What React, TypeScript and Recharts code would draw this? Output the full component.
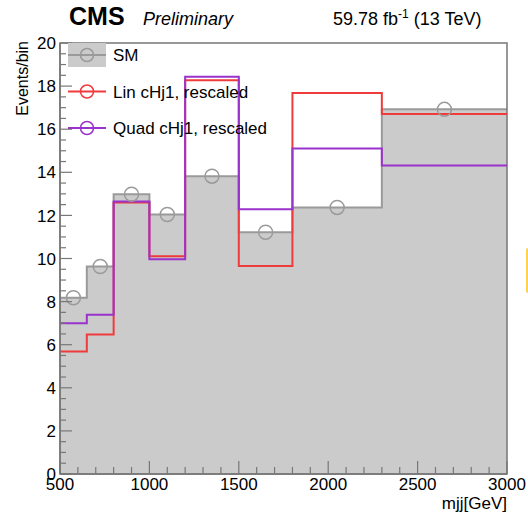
import { ComposedChart, Area, Line, Scatter, XAxis, YAxis, ReferenceArea } from "recharts";

const binEdges = [500, 650, 800, 1000, 1200, 1500, 1800, 2300, 3000];
const smValues = [8.18, 9.63, 12.98, 12.04, 13.82, 11.22, 12.37, 16.92];
const linValues = [5.68, 6.47, 12.6, 10.1, 18.27, 9.65, 17.68, 16.7];
const quadValues = [7.0, 7.39, 12.65, 9.97, 18.43, 12.28, 15.1, 14.32];

const yMajorTicks = [0, 2, 4, 6, 8, 10, 12, 14, 16, 18, 20];
const xMajorTicks = [500, 1000, 1500, 2000, 2500, 3000];

const legendItems = [
  { label: "SM", color: "#9a9a9a", box: true },
  { label: "Lin cHj1, rescaled", color: "#ef3b3b", box: false },
  { label: "Quad cHj1, rescaled", color: "#9933cc", box: false },
];

const FONT = "'Liberation Sans', Arial, sans-serif";
const AXIS = "#777";

const n = smValues.length;
const stepRows = binEdges.map((x, i) => ({
  x,
  sm: smValues[Math.min(i, n - 1)],
  lin: linValues[Math.min(i, n - 1)],
  quad: quadValues[Math.min(i, n - 1)],
}));
const smPoints = smValues.map((v, i) => ({ x: (binEdges[i] + binEdges[i + 1]) / 2, sm: v }));

const yTicks: number[] = [];
for (let v = 0; v <= 20; v += 0.5) yTicks.push(v);
const xTicks: number[] = [];
for (let v = 500; v <= 3000; v += 100) xTicks.push(v);

function YTick(props: any) {
  const { x, y, payload } = props;
  const major = yMajorTicks.includes(payload.value);
  return (
    <g>
      <line x1={x} x2={x + (major ? 12 : 6)} y1={y} y2={y} stroke={AXIS} strokeWidth={1.2} />
      {major && (
        <text x={x - 4} y={y} dy="0.36em" textAnchor="end" fontSize={17} fontFamily={FONT} fill="#000">
          {payload.value}
        </text>
      )}
    </g>
  );
}

function XTick(props: any) {
  const { x, y, payload } = props;
  const major = xMajorTicks.includes(payload.value);
  return (
    <g>
      <line x1={x} x2={x} y1={y} y2={y - (major ? 13 : 7)} stroke={AXIS} strokeWidth={1.2} />
      {major && (
        <text x={x} y={y + 16} textAnchor="middle" fontSize={17} fontFamily={FONT} fill="#000">
          {payload.value}
        </text>
      )}
    </g>
  );
}

const Circle = (props: any) => (
  <circle cx={props.cx} cy={props.cy} r={7} fill="none" stroke="#9a9a9a" strokeWidth={1.5} />
);

export default function App() {
  return (
    <div style={{ position: "absolute", top: 0, left: 0, width: 528, height: 514, background: "#fff" }}>
      <ComposedChart width={528} height={514} data={stepRows} margin={{ top: 43, right: 21, bottom: 0, left: 0 }}>
        <XAxis
          dataKey="x"
          type="number"
          domain={[500, 3000]}
          ticks={xTicks}
          interval={0}
          height={40}
          tickSize={0}
          tickMargin={0}
          tickLine={false}
          axisLine={{ stroke: AXIS, strokeWidth: 1.5 }}
          tick={<XTick />}
        />
        <YAxis
          type="number"
          domain={[0, 20]}
          ticks={yTicks}
          interval={0}
          width={60}
          tickSize={0}
          tickMargin={0}
          tickLine={false}
          axisLine={{ stroke: AXIS, strokeWidth: 1.5 }}
          tick={<YTick />}
        />
        <Area
          type="stepAfter"
          dataKey="sm"
          baseValue={0}
          fill="#cbcbcb"
          fillOpacity={1}
          stroke="#9a9a9a"
          strokeWidth={2}
          isAnimationActive={false}
        />
        <Line type="stepAfter" dataKey="lin" stroke="#ef3b3b" strokeWidth={2} dot={false} isAnimationActive={false} />
        <Line type="stepAfter" dataKey="quad" stroke="#9933cc" strokeWidth={2} dot={false} isAnimationActive={false} />
        <Scatter data={smPoints} dataKey="sm" shape={<Circle />} isAnimationActive={false} />
        <ReferenceArea x1={500} x2={3000} y1={0} y2={20} fill="none" stroke={AXIS} strokeWidth={1.5} ifOverflow="visible" />
      </ComposedChart>
      <svg width={528} height={514} style={{ position: "absolute", top: 0, left: 0, pointerEvents: "none" }}>
        <text x={69} y={25} fontSize={25} fontWeight="bold" fontFamily={FONT}>CMS</text>
        <text x={143} y={25} fontSize={18} fontStyle="italic" fontFamily={FONT}>Preliminary</text>
        <text x={333} y={25} fontSize={18} fontFamily={FONT}>
          59.78 fb<tspan fontSize={12} dy={-7}>-1</tspan>
          <tspan dy={7}> (13 TeV)</tspan>
        </text>
        <text transform="rotate(-90)" x={-41} y={28} textAnchor="end" fontSize={16} fontFamily={FONT}>Events/bin</text>
        <text x={507} y={509} textAnchor="end" fontSize={17} fontFamily={FONT}>mjj[GeV]</text>
        {legendItems.map((item, i) => {
          const cy = 55 + i * 36.5;
          return (
            <g key={item.label}>
              {item.box && <rect x={68} y={43} width={38} height={24} fill="#cbcbcb" />}
              <line x1={68} x2={106} y1={cy} y2={cy} stroke={item.color} strokeWidth={2} />
              <circle cx={87} cy={cy} r={6.5} fill="none" stroke={item.color} strokeWidth={1.5} />
              <text x={113} y={cy + 6} fontSize={17} fontFamily={FONT}>{item.label}</text>
            </g>
          );
        })}
        <rect x={526} y={248} width={4} height={45} rx={2} fill="#ffd24d" />
      </svg>
    </div>
  );
}
